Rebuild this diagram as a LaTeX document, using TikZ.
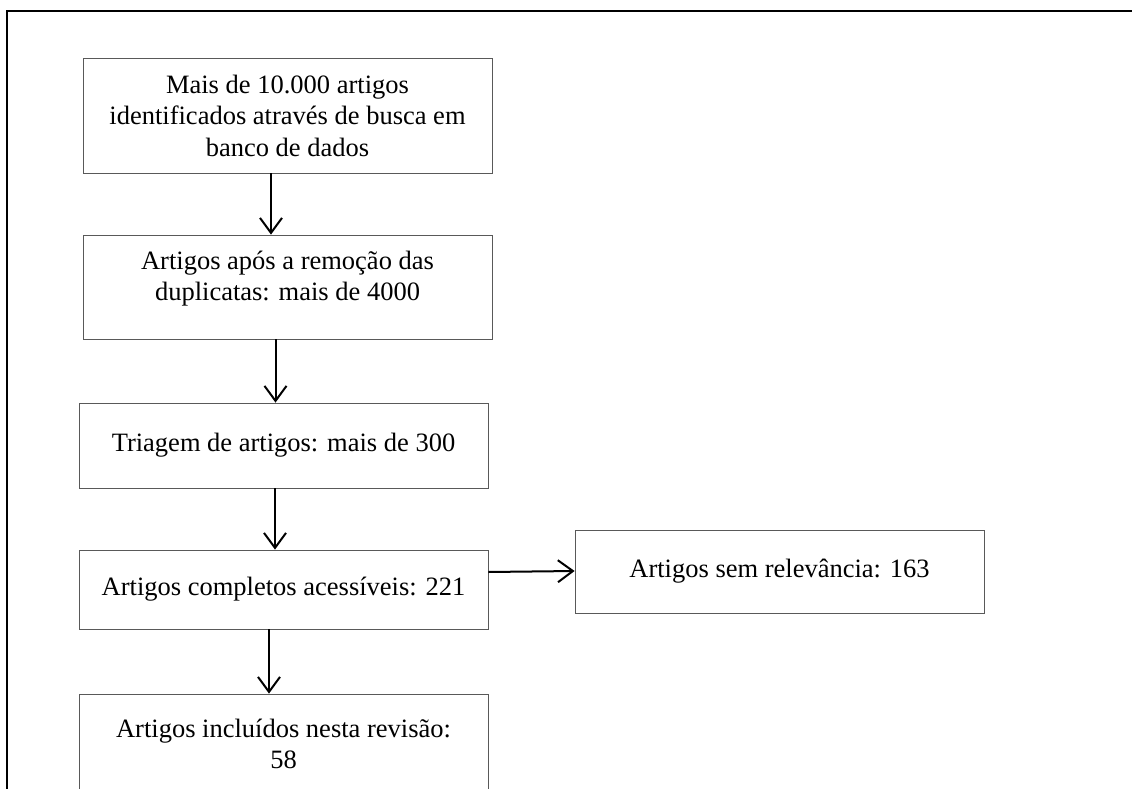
\documentclass[tikz,border=0pt]{standalone}
\usepackage{fontspec}
\setmainfont{Liberation Serif}
\usetikzlibrary{arrows.meta}
\begin{document}
\begin{tikzpicture}[x=1pt,y=-1pt,
    box/.style={draw=black!65,line width=0.8pt,minimum width=409pt,align=center,
      font=\fontsize{26.5}{31.5}\selectfont,inner sep=0pt},
    flow/.style={-{Straight Barb[length=15pt,width=22pt]},line width=2pt}]
  \useasboundingbox (0,0) rectangle (1132,789);
  \draw[line width=2.2pt] (7,800) -- (7,11) -- (1140,11);
  \draw
    (287.5,115.5) node[box,minimum height=115pt] (0){Mais de 10.000 artigos\\identificados através de busca em\\banco de dados}
    (287.5,287) node[box,minimum height=104pt,text depth=22pt] (1){Artigos após a remoção das\\duplicatas: mais de 4000}
    (283.5,445.5) node[box,minimum height=85pt] (2){Triagem de artigos: mais de 300}
    (283.5,589.5) node[box,minimum height=79pt] (3){Artigos completos acessíveis: 221}
    (283.5,744) node[box,minimum height=100pt] (4){Artigos incluídos nesta revisão:\\58}
    (779.5,571.5) node[box,minimum height=83pt] (5){Artigos sem relevância: 163};
  \begin{scope}[flow]
    \draw ([xshift=-16.5pt]0.south) to ([xshift=-16.5pt]1.north);
    \draw ([xshift=-12pt]1.south) to ([xshift=-8pt]2.north);
    \draw ([xshift=-8.5pt]2.south) to ([xshift=-8.5pt]3.north);
    \draw ([xshift=-14.5pt]3.south) to ([xshift=-14.5pt]4.north);
    \draw ([yshift=17.5pt]3.east) to ([yshift=0.5pt]5.west);
  \end{scope}
\end{tikzpicture}
\end{document}
